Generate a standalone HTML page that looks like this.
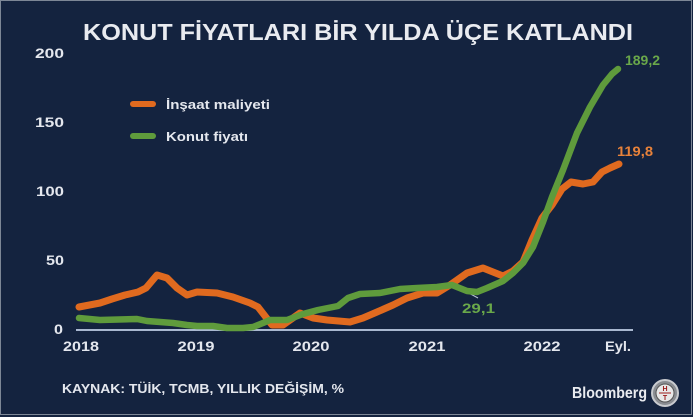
<!DOCTYPE html>
<html>
<head>
<meta charset="utf-8">
<style>
  html,body{margin:0;padding:0;background:#14233f;}
  svg{display:block;}
  text{font-family:"Liberation Sans", "DejaVu Sans", sans-serif;font-weight:bold;}
</style>
</head>
<body>
<svg width="693" height="417" viewBox="0 0 693 417" xmlns="http://www.w3.org/2000/svg">
  <rect x="0" y="0" width="693" height="417" fill="#14233f"/>
  <rect x="0.5" y="0.5" width="691" height="414" fill="none" stroke="#7d8796" stroke-width="1"/>

  <!-- Title -->
  <text x="358" y="40" text-anchor="middle" font-size="23" fill="#e9ebf0" textLength="550" lengthAdjust="spacingAndGlyphs">KONUT FİYATLARI BİR YILDA ÜÇE KATLANDI</text>

  <!-- Y axis labels -->
  <g font-size="13.5" fill="#e4e7ee" text-anchor="end">
    <text x="64" y="58" textLength="29" lengthAdjust="spacingAndGlyphs">200</text>
    <text x="64" y="127" textLength="29" lengthAdjust="spacingAndGlyphs">150</text>
    <text x="64" y="196" textLength="28" lengthAdjust="spacingAndGlyphs">100</text>
    <text x="64" y="265" textLength="18" lengthAdjust="spacingAndGlyphs">50</text>
    <text x="63" y="334" textLength="9" lengthAdjust="spacingAndGlyphs">0</text>
  </g>

  <!-- baseline -->
  <line x1="76" y1="330" x2="633" y2="330" stroke="#a9b8d0" stroke-width="2"/>

  <!-- X axis labels -->
  <g font-size="14" fill="#e4e7ee" text-anchor="middle">
    <text x="81" y="351" textLength="36" lengthAdjust="spacingAndGlyphs">2018</text>
    <text x="196" y="351" textLength="37" lengthAdjust="spacingAndGlyphs">2019</text>
    <text x="311" y="351" textLength="37" lengthAdjust="spacingAndGlyphs">2020</text>
    <text x="427" y="351" textLength="37" lengthAdjust="spacingAndGlyphs">2021</text>
    <text x="542" y="351" textLength="37" lengthAdjust="spacingAndGlyphs">2022</text>
    <text x="618" y="351" textLength="26" lengthAdjust="spacingAndGlyphs">Eyl.</text>
  </g>

  <!-- Legend -->
  <line x1="133" y1="104" x2="153" y2="104" stroke="#e06a1f" stroke-width="6" stroke-linecap="round"/>
  <text x="166" y="109" font-size="13" fill="#e4e7ee" textLength="104" lengthAdjust="spacingAndGlyphs">İnşaat maliyeti</text>
  <line x1="133" y1="136" x2="153" y2="136" stroke="#5f9b3c" stroke-width="6" stroke-linecap="round"/>
  <text x="166" y="141" font-size="13" fill="#e4e7ee" textLength="82" lengthAdjust="spacingAndGlyphs">Konut fiyatı</text>

  <!-- Annotation leader -->
  <line x1="465" y1="291" x2="478" y2="298" stroke="#b8c2d2" stroke-width="1"/>

  <!-- Orange series -->
  <polyline fill="none" stroke="#e06a1f" stroke-width="7" stroke-linejoin="round" stroke-linecap="round"
    points="79,307 100,303 112,299 125,295 138,292 146,288 157,275 167,278 177,288 187,295 197,292 217,293 233,297 250,303 258,307 272,325 283,325 300,313 313,318 327,320 350,322 363,318 377,312 393,305 407,298 423,293 437,293 450,285 467,273 483,268 503,276 513,271 523,262 532,240 542,218 552,205 562,189 571,182 583,184 593,182 602,172 610,168 619,164"/>

  <!-- Green series -->
  <polyline fill="none" stroke="#5f9b3c" stroke-width="6.5" stroke-linejoin="round" stroke-linecap="round"
    points="79,318 100,320 137,319 147,321 160,322 173,323 187,325 197,326 213,326 227,328 243,328 253,327 263,323 270,320 287,320 303,314 318,310 338,306 348,298 360,294 380,293 400,289 417,288 437,287 452,285 467,291 477,292 487,288 503,281 513,273 523,263 533,247 543,222 552,197 563,170 577,133 590,107 603,85 612,74 618,69"/>

  <!-- Value labels -->
  <text x="625" y="65" font-size="14" fill="#6aa84a" textLength="35" lengthAdjust="spacingAndGlyphs">189,2</text>
  <text x="617" y="156" font-size="14" fill="#e8823a" textLength="36" lengthAdjust="spacingAndGlyphs">119,8</text>
  <text x="462" y="313" font-size="14" fill="#6aa84a" textLength="33" lengthAdjust="spacingAndGlyphs">29,1</text>

  <!-- Source -->
  <text x="62" y="393" font-size="13" fill="#e4e7ee" textLength="282" lengthAdjust="spacingAndGlyphs">KAYNAK: TÜİK, TCMB, YILLIK DEĞİŞİM, %</text>

  <!-- Bloomberg -->
  <text x="572" y="398" font-size="16" fill="#e9ebf0" font-weight="normal" textLength="75" lengthAdjust="spacingAndGlyphs">Bloomberg</text>
  <circle cx="665" cy="393" r="13" fill="#8a8d92" stroke="#c9cbcf" stroke-width="2"/>
  <circle cx="665" cy="393" r="9" fill="#e8e8e8" stroke="#555" stroke-width="1"/>
  <text x="665" y="391" font-size="7" fill="#9b1b1b" text-anchor="middle">H</text>
  <line x1="659" y1="393" x2="671" y2="393" stroke="#9b1b1b" stroke-width="1"/>
  <text x="665" y="400" font-size="7" fill="#9b1b1b" text-anchor="middle">T</text>
</svg>
</body>
</html>
